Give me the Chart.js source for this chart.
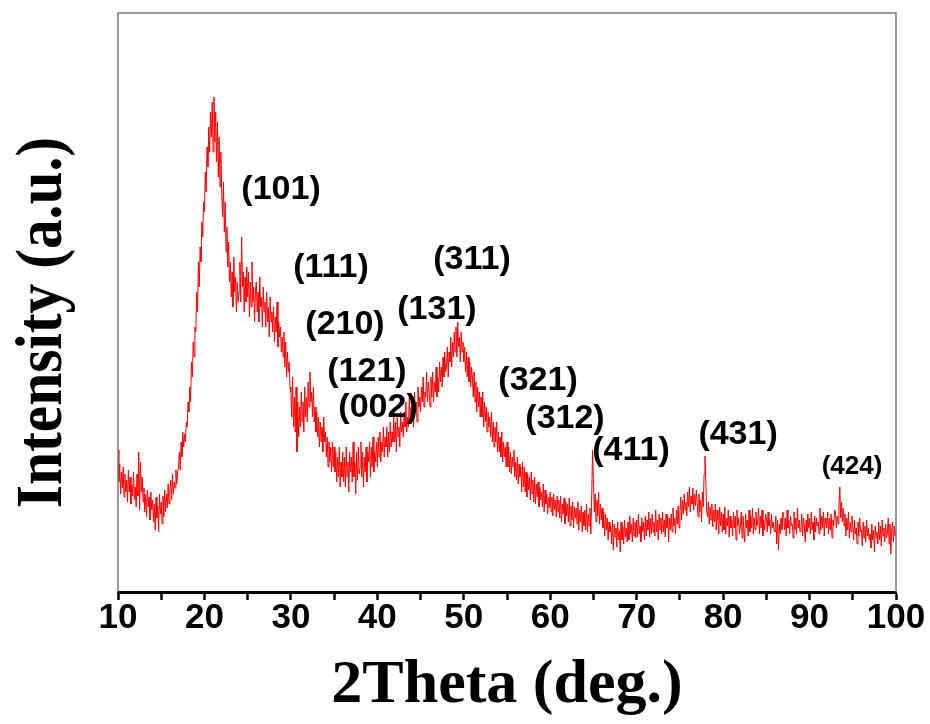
<!DOCTYPE html>
<html>
<head>
<meta charset="utf-8">
<script src="https://cdn.jsdelivr.net/npm/chart.js@4.4.1/dist/chart.umd.min.js"></script>
<style>
  html, body { margin: 0; padding: 0; background: #fff; }
  #wrap { width: 930px; height: 724px; position: relative; }
</style>
</head>
<body>
<div id="wrap"><canvas id="xrdChart"></canvas></div>
<script>
// 2theta grid of the scan (deg.)
const thetaStart = 10;
const thetaStep = 0.1;

// intensity, one row per degree (a.u.)
const intensity = [
  142, 110, 128, 98, 120, 104, 125, 95, 118, 100,   // 10
  112, 90, 122, 100, 115, 88, 108, 96, 120, 92,     // 11
  105, 85, 118, 96, 140, 82, 130, 100, 115, 90,     // 12
  104, 80, 98, 75, 102, 85, 95, 72, 100, 82,        // 13
  92, 70, 88, 62, 95, 74, 86, 60, 98, 78,           // 14
  90, 68, 96, 75, 102, 80, 98, 84, 108, 88,         // 15
  100, 112, 92, 118, 98, 110, 104, 122, 108, 120,   // 16
  125, 140, 122, 150, 135, 160, 145, 158, 150, 170, // 17
  165, 190, 180, 205, 190, 230, 215, 250, 235, 265, // 18
  260, 300, 280, 330, 305, 345, 330, 370, 355, 390, // 19
  380, 420, 400, 445, 425, 465, 440, 480, 455, 490, // 20
  440, 495, 450, 480, 430, 470, 415, 455, 405, 440, // 21
  400, 375, 410, 360, 390, 340, 365, 325, 350, 310, // 22
  330, 295, 320, 285, 335, 300, 315, 280, 310, 290, // 23
  300, 330, 290, 355, 305, 320, 280, 315, 290, 325, // 24
  295, 320, 275, 310, 285, 330, 290, 305, 270, 300, // 25
  310, 280, 300, 270, 315, 285, 295, 265, 305, 280, // 26
  290, 265, 300, 270, 285, 255, 295, 270, 280, 260, // 27
  285, 250, 275, 260, 290, 245, 270, 255, 265, 240, // 28
  255, 235, 260, 225, 250, 215, 240, 220, 230, 205, // 29
  200, 175, 215, 165, 195, 160, 205, 140, 190, 155, // 30
  185, 165, 200, 170, 190, 160, 205, 175, 195, 170, // 31
  210, 185, 220, 190, 200, 175, 205, 170, 185, 160, // 32
  180, 155, 175, 145, 170, 150, 165, 140, 175, 150, // 33
  160, 135, 155, 125, 150, 130, 145, 120, 150, 125, // 34
  145, 120, 140, 110, 135, 115, 145, 105, 130, 115, // 35
  140, 110, 135, 105, 145, 115, 130, 100, 140, 120, // 36
  135, 110, 150, 115, 130, 98, 140, 112, 145, 118,  // 37
  125, 150, 115, 140, 105, 135, 120, 145, 110, 140, // 38
  130, 150, 115, 145, 125, 155, 120, 140, 130, 150, // 39
  125, 155, 135, 160, 130, 150, 140, 165, 135, 155, // 40
  145, 165, 135, 160, 140, 170, 145, 160, 150, 175, // 41
  150, 170, 140, 175, 155, 165, 145, 180, 160, 170, // 42
  155, 180, 165, 190, 160, 175, 165, 195, 170, 185, // 43
  175, 195, 165, 200, 180, 190, 170, 205, 185, 195, // 44
  180, 205, 190, 215, 185, 200, 195, 220, 190, 210, // 45
  200, 185, 215, 195, 220, 190, 210, 200, 225, 195, // 46
  215, 200, 230, 210, 225, 205, 235, 215, 240, 220, // 47
  225, 245, 215, 240, 230, 255, 225, 250, 235, 260, // 48
  240, 265, 235, 270, 245, 255, 230, 260, 240, 250, // 49
  230, 245, 220, 240, 215, 235, 210, 230, 205, 225, // 50
  215, 195, 220, 190, 210, 180, 205, 185, 200, 175, // 51
  195, 175, 200, 165, 190, 170, 185, 160, 180, 165, // 52
  175, 155, 180, 150, 170, 145, 165, 150, 170, 140, // 53
  160, 140, 155, 135, 160, 130, 150, 135, 145, 125, // 54
  150, 125, 145, 120, 140, 118, 135, 125, 142, 115, // 55
  130, 112, 135, 108, 128, 115, 125, 100, 130, 105, // 56
  125, 100, 120, 95, 118, 102, 115, 92, 120, 98,    // 57
  112, 90, 115, 88, 108, 95, 110, 85, 105, 92,      // 58
  100, 85, 108, 80, 102, 88, 98, 78, 95, 84,        // 59
  100, 80, 95, 76, 98, 82, 92, 75, 96, 80,          // 60
  92, 74, 96, 70, 88, 78, 94, 68, 90, 76,           // 61
  88, 70, 94, 66, 86, 72, 90, 64, 85, 74,           // 62
  84, 68, 90, 62, 82, 70, 86, 60, 80, 66,           // 63
  82, 62, 88, 60, 78, 66, 84, 58, 96, 142,          // 64
  110, 80, 98, 70, 92, 76, 100, 68, 88, 72,         // 65
  84, 64, 80, 56, 78, 62, 74, 52, 70, 60,           // 66
  66, 48, 72, 42, 68, 55, 64, 45, 70, 52,           // 67
  62, 40, 70, 52, 66, 48, 72, 55, 64, 50,           // 68
  70, 52, 76, 58, 68, 50, 74, 56, 70, 54,           // 69
  72, 55, 78, 58, 66, 50, 74, 60, 70, 52,           // 70
  76, 56, 72, 62, 80, 55, 74, 58, 78, 60,           // 71
  70, 56, 82, 60, 72, 52, 78, 62, 74, 58,           // 72
  80, 60, 72, 55, 78, 64, 76, 50, 74, 62,           // 73
  78, 60, 84, 66, 74, 58, 82, 68, 86, 64,           // 74
  80, 95, 72, 92, 78, 98, 82, 90, 76, 100,          // 75
  85, 105, 80, 96, 88, 104, 82, 98, 86, 102,        // 76
  90, 75, 98, 80, 92, 70, 100, 85, 118, 136,        // 77
  110, 82, 75, 90, 68, 85, 72, 88, 65, 82,          // 78
  70, 88, 62, 82, 72, 58, 85, 66, 80, 60,           // 79
  78, 62, 85, 58, 74, 66, 82, 55, 76, 64,           // 80
  72, 56, 80, 64, 76, 52, 82, 66, 74, 58,           // 81
  66, 80, 54, 76, 62, 50, 78, 64, 72, 56,           // 82
  82, 60, 76, 64, 84, 58, 74, 62, 80, 66,           // 83
  70, 84, 58, 76, 64, 82, 56, 72, 62, 78,           // 84
  74, 60, 80, 66, 72, 58, 78, 64, 70, 62,           // 85
  60, 76, 48, 72, 42, 68, 58, 74, 62, 80,           // 86
  78, 62, 74, 56, 82, 64, 72, 58, 76, 66,           // 87
  68, 54, 80, 62, 74, 58, 84, 64, 72, 60,           // 88
  62, 78, 56, 74, 66, 50, 72, 60, 78, 64,           // 89
  74, 58, 80, 62, 70, 52, 76, 60, 74, 66,           // 90
  70, 58, 84, 62, 76, 64, 80, 56, 74, 68,           // 91
  64, 80, 58, 74, 62, 78, 54, 72, 66, 82,           // 92
  80, 64, 76, 68, 88, 105, 74, 90, 70, 84,          // 93
  66, 78, 56, 74, 62, 80, 54, 70, 60, 76,           // 94
  68, 52, 72, 58, 64, 48, 70, 56, 74, 60,           // 95
  62, 46, 70, 54, 66, 50, 72, 56, 64, 52,           // 96
  58, 44, 68, 52, 62, 40, 66, 54, 60, 48,           // 97
  70, 52, 66, 46, 72, 56, 64, 50, 68, 54,           // 98
  58, 74, 48, 68, 38, 62, 70, 50, 66, 56,           // 99
  62                                                // 100
];

// peak indexing labels and where they sit (2theta, intensity)
const peakLabels = ['(101)', '(111)', '(311)', '(210)', '(131)', '(121)', '(002)', '(321)', '(312)', '(411)', '(431)', '(424)'];
const peakX = [28.86, 34.64, 50.95, 36.26, 46.9, 38.8, 40.08, 58.59, 61.71, 69.35, 81.73, 94.91];
const peakY = [402, 324, 332, 267, 282, 220, 184, 211, 173, 141, 157, 125];

const xMin = 10, xMax = 100;
const yMin = 0, yMax = 579;

const points = intensity.map((v, i) => ({ x: thetaStart + i * thetaStep, y: v }));

// draws frame, hkl labels and the y title
const extras = {
  id: 'extras',
  afterDatasetsDraw(chart) {
    const { ctx, chartArea, scales } = chart;
    ctx.save();
    // grey frame on left / top / right
    ctx.strokeStyle = '#7a7a7a';
    ctx.lineWidth = 1.5;
    ctx.beginPath();
    ctx.moveTo(chartArea.left, chartArea.bottom);
    ctx.lineTo(chartArea.left, chartArea.top);
    ctx.lineTo(chartArea.right, chartArea.top);
    ctx.lineTo(chartArea.right, chartArea.bottom);
    ctx.stroke();

    ctx.fillStyle = '#000';
    ctx.textAlign = 'center';
    ctx.textBaseline = 'middle';
    peakLabels.forEach((t, i) => {
      const size = i === peakLabels.length - 1 ? 26 : 34;
      ctx.font = 'bold ' + size + 'px "Liberation Sans", Arial, sans-serif';
      ctx.fillText(t, scales.x.getPixelForValue(peakX[i]), scales.y.getPixelForValue(peakY[i]));
    });

    // y axis title
    ctx.translate(61, (chartArea.top + chartArea.bottom) / 2 + 20);
    ctx.rotate(-Math.PI / 2);
    ctx.scale(0.9, 1);
    ctx.textBaseline = 'alphabetic';
    ctx.font = 'bold 66px "Liberation Serif", "Times New Roman", serif';
    ctx.fillText('Intensity (a.u.)', 0, 0);
    ctx.restore();
  }
};

const chart = new Chart(document.getElementById('xrdChart'), {
  type: 'line',
  data: {
    datasets: [{
      data: points,
      borderColor: '#ff0000',
      borderWidth: 1,
      pointRadius: 0,
      tension: 0,
      fill: false
    }]
  },
  options: {
    responsive: true,
    maintainAspectRatio: false,
    animation: false,
    layout: { padding: { top: 13, right: 34, left: 0, bottom: 0 } },
    plugins: { legend: { display: false }, tooltip: { enabled: false } },
    scales: {
      x: {
        type: 'linear',
        min: xMin,
        max: xMax,
        afterFit: s => { s.height = 132; },
        border: { display: true, color: '#000', width: 3 },
        grid: { drawOnChartArea: false, drawTicks: true, tickLength: 8, tickWidth: 2.5, tickColor: '#000' },
        ticks: {
          stepSize: 5,
          autoSkip: false,
          maxRotation: 0,
          padding: -3,
          color: '#000',
          font: { family: '"Liberation Sans", Arial, sans-serif', size: 35, weight: 'bold' },
          callback: v => (v % 10 === 0 ? v : '')
        },
        title: {
          display: true,
          text: '2Theta (deg.)',
          color: '#000',
          padding: { top: 0, bottom: 1 },
          font: { family: '"Liberation Serif", "Times New Roman", serif', size: 62, weight: 'bold' }
        }
      },
      y: {
        min: yMin,
        max: yMax,
        afterFit: s => { s.width = 118; },
        border: { display: false },
        grid: { display: false },
        ticks: { display: false }
      }
    }
  },
  plugins: [extras]
});
</script>
</body>
</html>
